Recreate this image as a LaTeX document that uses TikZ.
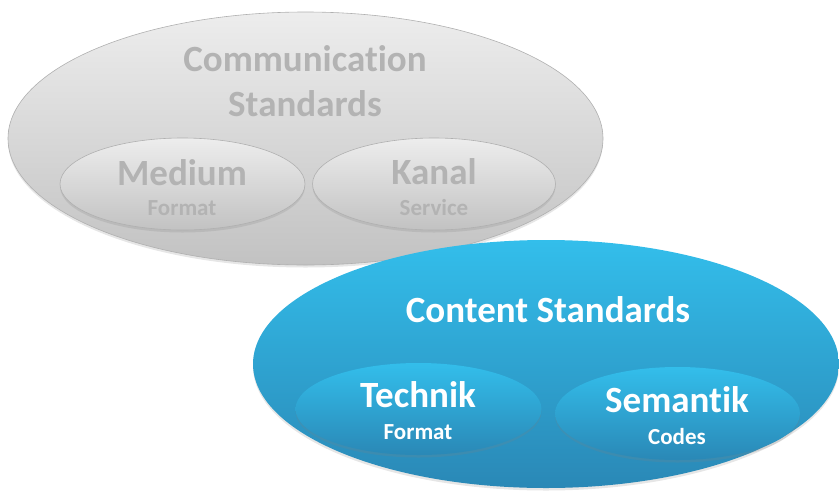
\documentclass[tikz,border=0pt]{standalone}
\usepackage{fontspec}
\setmainfont{Carlito}[Ligatures=NoCommon]
\usetikzlibrary{shapes.geometric,shadows}

\definecolor{greytop}{HTML}{EDEDED}
\definecolor{greybot}{HTML}{C2C2C2}
\definecolor{greyline}{HTML}{B0B0B0}
\definecolor{greytext}{HTML}{B3B3B3}
\definecolor{bluetop}{HTML}{33BEEB}
\definecolor{bluebot}{HTML}{2A88B6}

\tikzset{
  bigoval/.style={ellipse, inner sep=0pt},
  greyoval/.style={bigoval, draw=greyline, line width=0.6pt, top color=greytop, bottom color=greybot,
    drop shadow={shadow xshift=0pt, shadow yshift=-2.5pt, opacity=0.2}},
  blueoval/.style={bigoval, top color=bluetop, bottom color=bluebot,
    drop shadow={shadow xshift=0pt, shadow yshift=-2.5pt, opacity=0.2}},
  bigtext/.style={font=\bfseries\fontsize{37}{45}\selectfont, align=center, inner sep=0pt},
  smalltext/.style={font=\bfseries\fontsize{23}{27}\selectfont, inner sep=0pt},
}

\begin{document}
\begin{tikzpicture}[x=1pt, y=-1pt]
    \useasboundingbox (0, 0) rectangle (839, 491);

    % Communication standards
    \node[greyoval, minimum width=595, minimum height=253] (comm) at (305.5, 138.5) {};
    \node[greyoval, minimum width=245, minimum height=92] (medium) at (182.5, 184) {};
    \node[greyoval, minimum width=243, minimum height=92] (kanal) at (434, 184) {};
    \node[bigtext, text=greytext] (commtxt) at (305, 81) {Communication\\Standards};
    \node[bigtext, text=greytext] (mediumtxt) at (182, 173) {Medium};
    \node[smalltext, text=greytext] (formatA) at (182, 208) {Format};
    \node[bigtext, text=greytext] (kanaltxt) at (434, 172) {Kanal};
    \node[smalltext, text=greytext] (service) at (434, 208) {Service};

    % Content standards
    \node[blueoval, minimum width=586, minimum height=248] (cont) at (546, 364) {};
    \node[blueoval, minimum width=246, minimum height=92] (technik) at (418.5, 409) {};
    \node[blueoval, minimum width=245, minimum height=93] (semantik) at (677.5, 413.5) {};
    \node[bigtext, text=white] (conttxt) at (548, 310) {Content Standards};
    \node[bigtext, text=white] (techniktxt) at (418, 395) {Technik};
    \node[smalltext, text=white] (formatB) at (418, 432) {Format};
    \node[bigtext, text=white] (semantiktxt) at (677, 400) {Semantik};
    \node[smalltext, text=white] (codes) at (677, 437) {Codes};
\end{tikzpicture}
\end{document}
